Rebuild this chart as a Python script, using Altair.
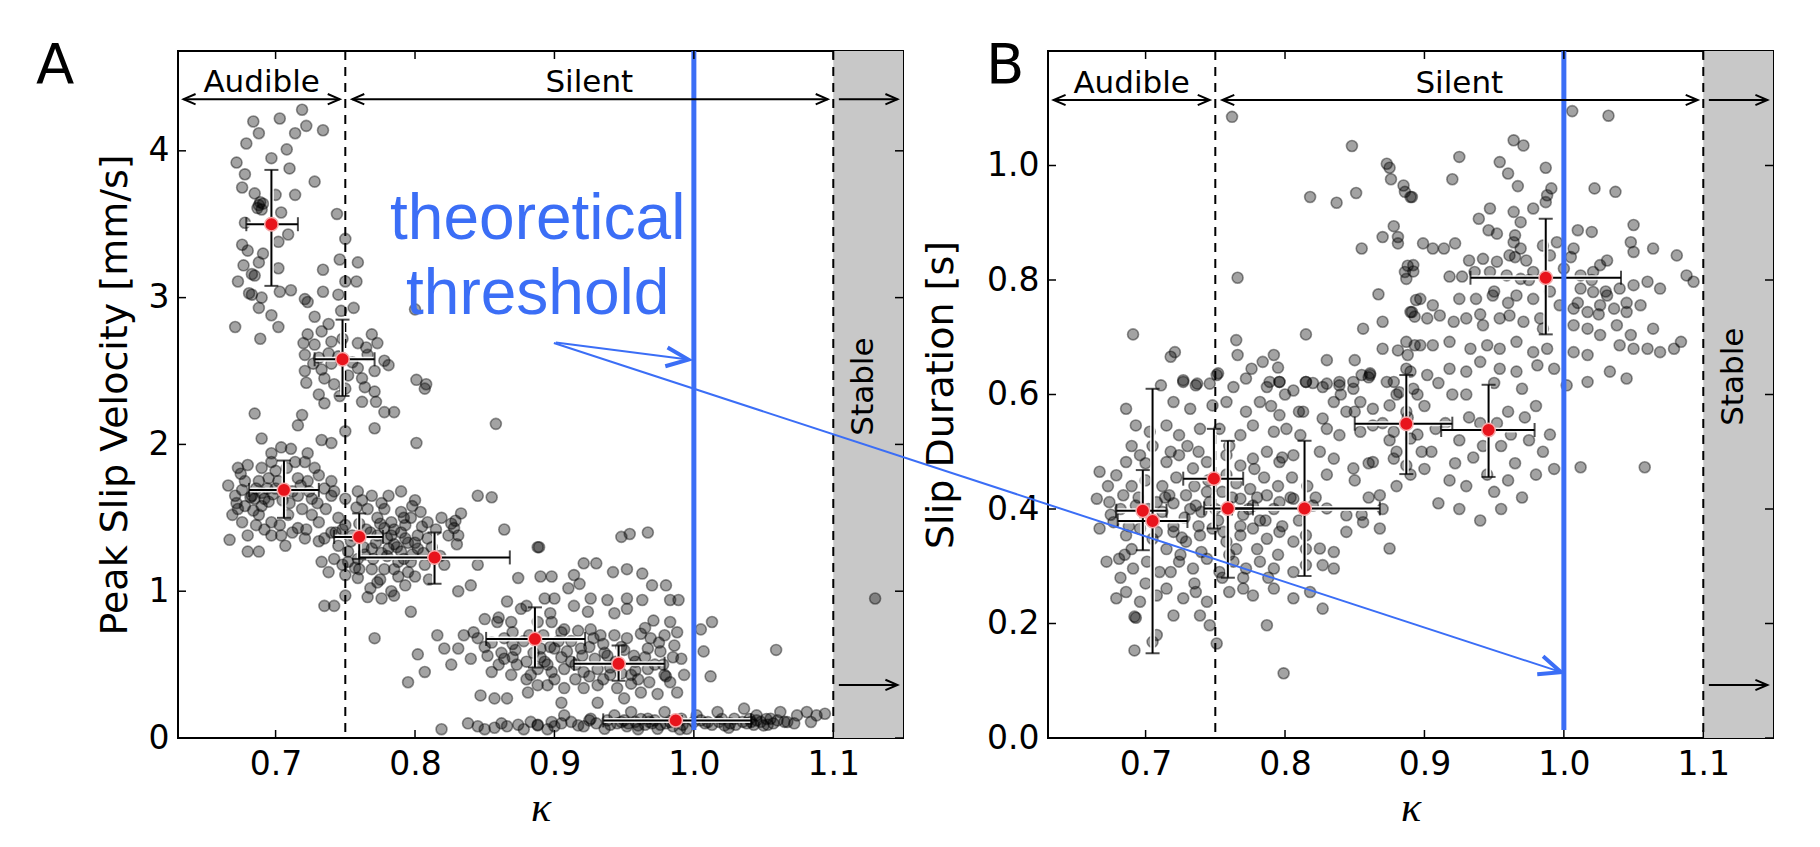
import altair as alt
import pandas as pd

# ---------------------------------------------------------------- styling
FONT = "DejaVu Sans"
BLUE = "#3b6ef6"
GRAY = "#c8c8c8"
RED = "#e8141c"
W, H = 725, 687

# ---------------------------------------------------------------- axes
K_DOMAIN = [0.63, 1.15]
K_TICKS = [0.7, 0.8, 0.9, 1.0, 1.1]
A_Y_DOMAIN = [0, 4.68]
A_Y_TICKS = [0, 1, 2, 3, 4]
B_Y_DOMAIN = [0, 1.2]
B_Y_TICKS = [0.0, 0.2, 0.4, 0.6, 0.8, 1.0]

AUDIBLE_EDGE = 0.75
STABLE_EDGE = 1.1
THRESHOLD = 1.0

REGION_NAMES = ["Audible", "Silent"]
REGION_CENTRES = [0.69, 0.925]
ARROW_FROM = [0.634, 0.755, 1.104]
ARROW_TO = [0.746, 1.096, 1.146]
ARROW_TWO_HEADED = [True, True, False]

# ---------------------------------------------------------------- panel A scatter (kappa, peak slip velocity)
A_HIGH_AUDIBLE = [(0.719,4.28),(0.703,4.22),(0.684,4.20),(0.722,4.17),(0.734,4.14),(0.688,4.12),(0.714,4.12),(0.679,4.05),(0.708,4.01),(0.697,3.95),(0.672,3.92),(0.678,3.84),(0.710,3.88),(0.728,3.79),(0.676,3.75),(0.685,3.71),(0.700,3.70),(0.714,3.70),(0.688,3.63),(0.689,3.65),(0.687,3.61),(0.691,3.64),(0.690,3.60),(0.704,3.58),(0.678,3.51),(0.709,3.43),(0.676,3.36),(0.680,3.32),(0.691,3.30),(0.702,3.38),(0.677,3.22),(0.688,3.24),(0.683,3.16),(0.685,3.15),(0.673,3.11),(0.702,3.20),(0.683,3.02),(0.681,3.03),(0.690,3.00),(0.703,3.04),(0.711,3.05),(0.688,2.93),(0.697,2.88),(0.671,2.80),(0.702,2.80),(0.689,2.72),(0.744,3.57),(0.721,2.99)]
A_MID_AUDIBLE = [(0.750,3.40),(0.746,3.26),(0.759,3.24),(0.734,3.19),(0.750,3.11),(0.758,3.11),(0.734,3.04),(0.745,3.02),(0.723,2.97),(0.756,2.93),(0.728,2.87),(0.747,2.91),(0.738,2.82),(0.723,2.75),(0.733,2.77),(0.769,2.75),(0.720,2.69),(0.728,2.68),(0.740,2.70),(0.759,2.69),(0.773,2.69),(0.721,2.61),(0.731,2.59),(0.738,2.62),(0.766,2.61),(0.778,2.57),(0.721,2.50),(0.733,2.51),(0.759,2.52),(0.771,2.50),(0.781,2.54),(0.801,2.44),(0.808,2.41),(0.800,2.92),(0.722,2.42),(0.731,2.34),(0.742,2.41),(0.750,2.38),(0.764,2.39),(0.771,2.36),(0.762,2.29),(0.772,2.29),(0.778,2.22),(0.785,2.22),(0.750,2.09),(0.771,2.11),(0.735,2.28),(0.746,2.33),(0.807,2.38),(0.858,2.14),(0.801,2.01),(0.740,2.55),(0.745,2.60),(0.752,2.47),(0.762,2.45),(0.755,2.56),(0.765,2.66),(0.748,2.72),(0.735,2.45),(0.727,2.55)]
A_LOW_AUDIBLE = [(0.685,2.21),(0.719,2.20),(0.716,2.13),(0.690,2.04),(0.704,1.98),(0.711,1.97),(0.697,1.94),(0.723,1.94),(0.733,2.03),(0.740,2.01),(0.673,1.84),(0.680,1.86),(0.690,1.84),(0.697,1.88),(0.714,1.88),(0.721,1.88),(0.728,1.84),(0.666,1.72),(0.678,1.75),(0.683,1.65),(0.688,1.75),(0.695,1.77),(0.716,1.77),(0.723,1.75),(0.731,1.79),(0.740,1.75),(0.671,1.65),(0.673,1.56),(0.685,1.63),(0.695,1.61),(0.716,1.65),(0.726,1.63),(0.735,1.70),(0.742,1.68),(0.669,1.52),(0.676,1.47),(0.688,1.52),(0.697,1.47),(0.709,1.52),(0.719,1.56),(0.726,1.52),(0.716,1.43),(0.731,1.47),(0.680,1.38),(0.697,1.38),(0.707,1.31),(0.667,1.35),(0.680,1.27),(0.688,1.27),(0.721,1.36),(0.731,1.34),(0.740,1.40),(0.750,1.45),(0.704,1.38),(0.682,1.64),(0.690,1.67),(0.692,1.63),(0.702,1.75),(0.686,1.70),(0.700,1.70),(0.710,1.60),(0.676,1.69),(0.672,1.60),(0.678,1.58),(0.684,1.55),(0.690,1.58),(0.694,1.70),(0.698,1.66),(0.705,1.62),(0.712,1.68),(0.718,1.72),(0.724,1.68),(0.730,1.60),(0.736,1.56),(0.686,1.45),(0.692,1.42),(0.703,1.45),(0.712,1.40),(0.722,1.42),(0.700,1.82),(0.708,1.84),(0.675,1.80)]
A_TRANSITION = [(0.740,1.65),(0.750,1.63),(0.759,1.68),(0.769,1.65),(0.781,1.65),(0.790,1.68),(0.800,1.62),(0.766,1.56),(0.778,1.56),(0.790,1.54),(0.804,1.54),(0.797,1.50),(0.745,1.50),(0.773,1.50),(0.783,1.47),(0.793,1.45),(0.809,1.47),(0.819,1.50),(0.828,1.43),(0.831,1.38),(0.824,1.38),(0.735,1.36),(0.745,1.31),(0.754,1.34),(0.773,1.38),(0.783,1.38),(0.793,1.36),(0.802,1.38),(0.809,1.36),(0.769,1.29),(0.781,1.29),(0.790,1.27),(0.802,1.29),(0.788,1.20),(0.797,1.20),(0.733,1.20),(0.742,1.22),(0.752,1.20),(0.759,1.22),(0.769,1.15),(0.778,1.15),(0.807,1.18),(0.821,1.18),(0.738,1.13),(0.750,1.11),(0.759,1.09),(0.773,1.06),(0.783,1.00),(0.793,1.04),(0.766,0.96),(0.776,0.95),(0.785,0.97),(0.831,1.00),(0.840,1.04),(0.845,1.18),(0.864,1.42),(0.888,1.30),(0.735,0.90),(0.742,0.90),(0.750,0.97),(0.797,0.86),(0.771,0.68),(0.845,1.65),(0.855,1.64),(0.833,1.53),(0.785,1.42),(0.790,1.40),(0.795,1.33),(0.785,1.32),(0.778,1.43),(0.765,1.42),(0.798,1.25),(0.780,1.24),(0.772,1.33),(0.760,1.46),(0.805,1.44),(0.815,1.42),(0.826,1.46),(0.829,1.48),(0.770,1.22),(0.788,1.10),(0.760,1.15),(0.795,1.13),(0.810,1.08),(0.752,1.27),(0.743,1.40),(0.758,1.57),(0.748,1.42),(0.755,1.38),(0.763,1.30),(0.768,1.40),(0.775,1.46),(0.780,1.36),(0.787,1.30),(0.792,1.22),(0.800,1.33),(0.806,1.26),(0.812,1.30),(0.818,1.24),(0.776,1.26),(0.764,1.25),(0.757,1.16),(0.748,1.18),(0.785,1.15),(0.800,1.10),(0.775,1.08),(0.768,1.02),(0.792,1.50),(0.798,1.58),(0.776,1.60),(0.762,1.62),(0.830,1.32)]
A_SILENT = [(0.874,1.09),(0.866,0.93),(0.876,0.88),(0.850,0.81),(0.859,0.79),(0.869,0.79),(0.835,0.70),(0.845,0.68),(0.855,0.65),(0.864,0.68),(0.816,0.70),(0.821,0.61),(0.802,0.57),(0.831,0.61),(0.826,0.50),(0.840,0.54),(0.852,0.56),(0.864,0.54),(0.855,0.45),(0.869,0.43),(0.883,0.43),(0.847,0.29),(0.857,0.27),(0.866,0.27),(0.881,0.31),(0.888,0.36),(0.807,0.45),(0.795,0.38),(0.889,1.30),(0.948,1.37),(0.954,1.39),(0.967,1.40),(0.921,1.19),(0.930,1.19),(0.890,1.10),(0.898,1.10),(0.914,1.11),(0.942,1.13),(0.952,1.15),(0.963,1.12),(0.970,1.04),(0.980,1.04),(0.910,1.02),(0.918,1.05),(0.893,0.95),(0.900,0.95),(0.926,0.95),(0.938,0.94),(0.952,0.95),(0.963,0.94),(0.983,0.94),(0.989,0.94),(0.914,0.90),(0.924,0.86),(0.943,0.85),(0.952,0.88),(0.971,0.80),(0.983,0.79),(1.005,0.74),(1.013,0.79),(0.888,0.79),(0.898,0.79),(0.907,0.74),(0.917,0.73),(0.926,0.74),(0.933,0.70),(0.943,0.70),(0.952,0.68),(0.962,0.71),(0.969,0.68),(0.979,0.70),(0.988,0.72),(0.890,0.61),(0.900,0.61),(0.909,0.59),(0.919,0.61),(0.929,0.54),(0.938,0.56),(0.957,0.56),(0.967,0.61),(0.976,0.59),(0.986,0.63),(0.991,0.54),(1.007,0.59),(0.888,0.47),(0.898,0.45),(0.907,0.47),(0.921,0.45),(0.931,0.47),(0.940,0.43),(0.955,0.43),(0.967,0.47),(0.979,0.43),(0.983,0.38),(0.993,0.43),(1.012,0.42),(0.895,0.36),(0.907,0.34),(0.921,0.34),(0.931,0.36),(0.945,0.34),(0.962,0.31),(0.974,0.30),(0.988,0.31),(0.905,0.24),(0.931,0.24),(0.950,0.27),(1.059,0.60),(0.870,0.72),(0.878,0.66),(0.885,0.58),(0.872,0.60),(0.862,0.58),(0.880,0.52),(0.873,0.50),(0.893,0.52),(0.905,0.55),(0.915,0.50),(0.925,0.62),(0.935,0.64),(0.948,0.62),(0.958,0.52),(0.935,0.40),(0.955,0.37),(0.968,0.38),(0.978,0.50),(0.915,0.40),(0.945,0.50),(0.860,0.82),(0.892,0.70),(0.903,0.66),(0.880,0.90),(0.897,0.85),(1.130,0.95),(0.870,0.64),(0.882,0.70),(0.890,0.55),(0.897,0.62),(0.905,0.72),(0.912,0.66),(0.920,0.56),(0.928,0.68),(0.936,0.58),(0.944,0.52),(0.950,0.60),(0.958,0.46),(0.965,0.55),(0.972,0.50),(0.980,0.42),(0.960,0.40),(0.948,0.44),(0.940,0.48),(0.925,0.42),(0.912,0.52),(0.900,0.40),(0.895,0.50),(0.880,0.40),(0.870,0.55),(0.860,0.50),(0.850,0.62),(0.842,0.72),(0.985,0.55),(0.975,0.65),(0.965,0.75)]
A_BAND = [(0.819,0.06),(0.838,0.10),(0.850,0.06),(0.857,0.07),(0.874,0.09),(0.878,0.06),(0.888,0.09),(0.895,0.06),(0.888,0.086),(0.898,0.109),(0.907,0.154),(0.917,0.086),(0.926,0.131),(0.936,0.063),(0.943,0.154),(0.948,0.109),(0.955,0.177),(0.960,0.086),(0.967,0.131),(0.974,0.063),(0.979,0.177),(0.983,0.109),(0.991,0.131),(0.995,0.063),(1.002,0.154),(1.010,0.109),(1.017,0.177),(1.022,0.086),(1.029,0.131),(1.036,0.200),(1.041,0.109),(1.045,0.154),(1.050,0.086),(1.055,0.131),(1.062,0.177),(1.067,0.109),(1.074,0.154),(1.081,0.177),(1.088,0.154),(1.094,0.165),(1.084,0.109),(0.945,0.10),(0.950,0.12),(0.952,0.08),(0.958,0.11),(0.962,0.13),(0.965,0.09),(0.970,0.10),(0.972,0.12),(0.976,0.09),(0.985,0.08),(1.035,0.11),(1.040,0.13),(1.043,0.09),(1.048,0.11),(1.052,0.13),(1.057,0.10),(1.060,0.12),(0.930,0.10),(0.938,0.12),(1.005,0.12),(1.013,0.09),(1.020,0.13),(1.026,0.10),(0.912,0.11),(0.921,0.08),(0.900,0.08),(0.866,0.08),(0.845,0.08),(0.862,0.10),(0.883,0.11),(0.940,0.09),(0.953,0.10),(0.968,0.11),(0.980,0.10),(0.992,0.09),(1.000,0.11),(1.008,0.10),(1.018,0.11),(1.030,0.09),(1.038,0.10),(1.045,0.12),(1.053,0.09),(1.065,0.11),(1.072,0.10),(0.925,0.12),(0.905,0.10),(0.960,0.06),(0.990,0.06),(1.025,0.07)]

# ---------------------------------------------------------------- panel B scatter (kappa, slip duration)
B_UPPER = [(0.762,1.085),(0.848,1.034),(0.873,1.003),(0.875,0.996),(0.876,0.976),(0.886,0.954),(0.890,0.945),(0.818,0.945),(0.837,0.935),(0.851,0.952),(0.878,0.894),(0.881,0.875),(0.881,0.864),(0.870,0.875),(0.855,0.855),(0.888,0.825),(0.892,0.815),(0.887,0.802),(0.766,0.804),(0.867,0.775),(0.894,0.765),(0.891,0.744),(0.893,0.736),(0.870,0.727),(0.856,0.715),(0.691,0.705),(0.815,0.705),(0.765,0.695),(0.766,0.669),(0.721,0.674),(0.718,0.666),(0.792,0.669),(0.784,0.657),(0.776,0.645),(0.795,0.647),(0.881,0.677),(0.888,0.669),(0.893,0.686),(0.861,0.637),(0.855,0.634),(0.727,0.625),(0.737,0.619),(0.746,0.619),(0.752,0.637),(0.711,0.616),(0.789,0.622),(0.796,0.622),(0.815,0.622),(0.830,0.619),(0.839,0.622),(0.849,0.622),(0.878,0.622)]
B_SILENT_HIGH = [(1.006,1.095),(1.032,1.087),(0.964,1.044),(0.971,1.035),(0.925,1.015),(0.954,1.006),(0.960,0.986),(0.987,0.996),(0.920,0.976),(0.967,0.964),(0.991,0.960),(0.988,0.948),(0.987,0.936),(1.022,0.960),(1.037,0.954),(0.885,0.965),(0.891,0.945),(0.947,0.925),(0.939,0.907),(0.964,0.919),(0.969,0.901),(0.965,0.878),(0.978,0.925),(1.050,0.896),(1.010,0.887),(1.020,0.884),(0.946,0.887),(0.952,0.881),(0.964,0.866),(0.969,0.855),(0.995,0.866),(1.007,0.855),(0.990,0.843),(1.031,0.834),(1.026,0.826),(1.021,0.814),(1.048,0.866),(1.050,0.849),(1.064,0.855),(1.081,0.843),(0.899,0.864),(0.906,0.855),(0.914,0.855),(0.922,0.864),(0.932,0.834),(0.942,0.837),(0.952,0.832),(0.961,0.843),(0.973,0.834),(0.978,0.814),(0.886,0.814),(0.892,0.826),(0.918,0.806),(0.927,0.806),(0.936,0.814),(0.947,0.814),(0.959,0.808),(0.969,0.802),(1.012,0.808),(1.012,0.785),(1.021,0.779),(1.031,0.773),(1.040,0.785),(1.050,0.791),(1.060,0.797),(1.069,0.785),(1.088,0.808),(1.093,0.797),(0.897,0.767),(0.906,0.756),(0.925,0.767),(0.937,0.767),(0.949,0.773),(0.966,0.773),(0.978,0.767),(0.997,0.756),(1.007,0.750),(1.017,0.744),(1.026,0.756),(1.036,0.750),(1.045,0.744),(1.055,0.756),(0.890,0.744),(0.902,0.733),(0.911,0.738),(0.921,0.727),(0.930,0.733),(0.942,0.721),(0.954,0.733),(0.961,0.738),(0.971,0.727),(0.983,0.733),(0.985,0.715),(1.007,0.721),(1.017,0.715),(1.026,0.704),(1.038,0.721),(1.048,0.704),(1.064,0.715),(0.887,0.692),(0.897,0.686),(0.906,0.686),(0.918,0.692),(0.933,0.680),(0.945,0.686),(0.954,0.680),(0.966,0.692),(0.978,0.674),(0.988,0.680),(1.040,0.686),(1.050,0.680),(1.060,0.680),(1.069,0.674),(1.079,0.680),(1.084,0.692),(1.007,0.674),(1.017,0.669),(0.887,0.645),(0.902,0.634),(0.918,0.645),(0.930,0.640),(0.940,0.657),(0.954,0.645),(0.966,0.640),(0.981,0.651),(0.993,0.645),(1.033,0.640),(1.045,0.628),(1.017,0.622),(1.002,0.616),(0.950,0.78),(0.960,0.76),(0.975,0.80),(0.990,0.78),(1.000,0.82),(1.010,0.76),(1.020,0.80),(1.030,0.78),(1.045,0.76),(0.965,0.84),(0.985,0.86),(1.005,0.84),(1.025,0.74),(0.940,0.74)]
B_SILENT_MID = [(0.870,0.55),(0.895,0.53),(0.905,0.50),(0.915,0.55),(0.925,0.52),(0.935,0.49),(0.945,0.46),(0.955,0.51),(0.965,0.48),(0.975,0.52),(0.985,0.50),(0.993,0.47),(0.900,0.47),(0.918,0.45),(0.930,0.44),(0.950,0.43),(0.960,0.45),(0.980,0.46),(0.940,0.55),(0.960,0.57),(0.980,0.58),(0.900,0.58),(0.920,0.60),(0.880,0.50),(0.890,0.46),(0.910,0.41),(0.925,0.40),(0.970,0.42),(0.955,0.40),(0.940,0.38),(1.012,0.473),(1.058,0.473),(0.850,0.45),(0.860,0.42),(0.870,0.40),(0.855,0.39),(0.880,0.44),(0.800,0.60),(0.820,0.62),(0.840,0.60),(0.860,0.63),(0.880,0.60),(0.830,0.66),(0.850,0.66),(0.870,0.68),(0.890,0.64),(0.790,0.58),(0.810,0.57),(0.850,0.57),(0.860,0.48),(0.875,0.52),(0.888,0.56),(0.898,0.50),(0.908,0.54),(0.922,0.48),(0.932,0.56),(0.942,0.51),(0.952,0.55),(0.962,0.53),(0.972,0.56),(0.990,0.53),(0.895,0.60),(0.910,0.62),(0.930,0.60),(0.950,0.62),(0.970,0.61)]
B_AUDIBLE_CORE = [(0.727,0.622),(0.736,0.616),(0.751,0.634),(0.763,0.613),(0.772,0.628),(0.787,0.613),(0.796,0.622),(0.806,0.607),(0.815,0.622),(0.827,0.613),(0.839,0.616),(0.849,0.610),(0.861,0.634),(0.873,0.622),(0.882,0.604),(0.892,0.610),(0.686,0.575),(0.720,0.587),(0.732,0.575),(0.748,0.581),(0.758,0.587),(0.772,0.570),(0.782,0.587),(0.796,0.564),(0.813,0.570),(0.827,0.558),(0.835,0.587),(0.844,0.570),(0.854,0.587),(0.863,0.575),(0.875,0.581),(0.887,0.570),(0.693,0.546),(0.703,0.535),(0.715,0.546),(0.724,0.529),(0.739,0.540),(0.753,0.540),(0.768,0.529),(0.777,0.546),(0.792,0.535),(0.801,0.540),(0.811,0.529),(0.830,0.540),(0.839,0.529),(0.854,0.535),(0.863,0.546),(0.878,0.535),(0.890,0.523),(0.667,0.465),(0.679,0.459),(0.686,0.482),(0.696,0.494),(0.715,0.482),(0.724,0.494),(0.734,0.471),(0.744,0.482),(0.758,0.494),(0.768,0.476),(0.777,0.488),(0.787,0.500),(0.796,0.482),(0.806,0.494),(0.825,0.500),(0.835,0.488),(0.849,0.471),(0.863,0.482),(0.878,0.488),(0.887,0.476),(0.665,0.418),(0.674,0.412),(0.684,0.424),(0.693,0.406),(0.708,0.412),(0.717,0.424),(0.729,0.424),(0.736,0.406),(0.746,0.412),(0.768,0.418),(0.777,0.406),(0.787,0.424),(0.796,0.412),(0.806,0.418),(0.820,0.406),(0.830,0.401),(0.844,0.389),(0.856,0.377),(0.868,0.424),(0.875,0.331),(0.667,0.366),(0.677,0.377),(0.686,0.354),(0.696,0.366),(0.705,0.348),(0.720,0.360),(0.729,0.343),(0.739,0.354),(0.748,0.366),(0.758,0.343),(0.768,0.354),(0.777,0.366),(0.787,0.348),(0.796,0.360),(0.806,0.343),(0.815,0.354),(0.825,0.331),(0.835,0.325),(0.844,0.360),(0.868,0.366),(0.690,0.440),(0.700,0.450),(0.712,0.440),(0.722,0.455),(0.735,0.440),(0.745,0.450),(0.755,0.430),(0.765,0.445),(0.775,0.435),(0.785,0.455),(0.700,0.385),(0.712,0.395),(0.728,0.385),(0.740,0.395),(0.752,0.380),(0.770,0.390),(0.782,0.380),(0.795,0.440),(0.805,0.455),(0.690,0.330),(0.715,0.330),(0.740,0.325),(0.760,0.320),(0.780,0.330),(0.673,0.440),(0.705,0.510),(0.760,0.510),(0.730,0.510),(0.720,0.370),(0.675,0.39),(0.682,0.40),(0.688,0.37),(0.695,0.42),(0.702,0.40),(0.708,0.36),(0.714,0.42),(0.720,0.41),(0.726,0.35),(0.732,0.40),(0.738,0.37),(0.744,0.43),(0.750,0.40),(0.756,0.36),(0.762,0.42),(0.768,0.37),(0.774,0.40),(0.780,0.42),(0.786,0.38),(0.792,0.40),(0.798,0.37),(0.804,0.42),(0.810,0.38),(0.816,0.44),(0.822,0.42),(0.830,0.46),(0.682,0.28),(0.700,0.27),(0.718,0.29),(0.735,0.27),(0.755,0.28),(0.770,0.28),(0.788,0.28),(0.700,0.48),(0.718,0.50),(0.738,0.50),(0.758,0.46),(0.778,0.47),(0.798,0.49),(0.690,0.51),(0.685,0.32),(0.725,0.32),(0.765,0.33),(0.795,0.32),(0.815,0.33)]
B_AUDIBLE_LOW = [(0.672,0.308),(0.681,0.313),(0.691,0.296),(0.701,0.308),(0.710,0.290),(0.724,0.308),(0.734,0.296),(0.744,0.313),(0.753,0.290),(0.763,0.308),(0.772,0.296),(0.782,0.308),(0.792,0.296),(0.806,0.290),(0.815,0.302),(0.827,0.302),(0.835,0.296),(0.679,0.244),(0.686,0.255),(0.696,0.238),(0.708,0.249),(0.715,0.261),(0.727,0.244),(0.736,0.255),(0.744,0.238),(0.760,0.255),(0.770,0.261),(0.777,0.249),(0.792,0.261),(0.806,0.244),(0.818,0.255),(0.827,0.226),(0.692,0.212),(0.693,0.210),(0.720,0.214),(0.739,0.214),(0.746,0.197),(0.787,0.197),(0.708,0.180),(0.692,0.153),(0.751,0.165),(0.799,0.113),(0.705,0.168)]

# ---------------------------------------------------------------- bin means +- std (red markers)
A_MEAN_K = [0.697, 0.748, 0.706, 0.760, 0.814, 0.886, 0.946, 0.987]
A_MEAN_V = [3.50, 2.58, 1.69, 1.37, 1.23, 0.675, 0.506, 0.12]
A_K_LO = [0.679, 0.728, 0.681, 0.742, 0.760, 0.851, 0.914, 0.935]
A_K_HI = [0.716, 0.771, 0.731, 0.777, 0.868, 0.922, 0.979, 1.041]
A_V_LO = [3.08, 2.33, 1.50, 1.22, 1.05, 0.48, 0.39, 0.09]
A_V_HI = [3.87, 2.85, 1.89, 1.53, 1.40, 0.89, 0.63, 0.15]

B_MEAN_K = [0.698, 0.705, 0.749, 0.759, 0.814, 0.887, 0.946, 0.987]
B_MEAN_V = [0.397, 0.379, 0.453, 0.401, 0.401, 0.549, 0.538, 0.804]
B_K_LO = [0.679, 0.680, 0.727, 0.742, 0.762, 0.850, 0.912, 0.933]
B_K_HI = [0.715, 0.730, 0.770, 0.777, 0.868, 0.920, 0.979, 1.041]
B_V_LO = [0.328, 0.148, 0.366, 0.280, 0.283, 0.461, 0.456, 0.705]
B_V_HI = [0.468, 0.610, 0.540, 0.519, 0.519, 0.634, 0.617, 0.907]

# annotation heights in each panel's own units
A_ANN = {"arrow": 4.352, "label": 4.46, "bottom_arrow": 0.3615, "stable": 2.394, "blue_end": 0.055}
B_ANN = {"arrow": 1.1144, "label": 1.142, "bottom_arrow": 0.0926, "stable": 0.631, "blue_end": 0.014}

# blue "theoretical threshold" annotation
NOTE_LINES = ["theoretical", "threshold"]
NOTE_K = 0.888
NOTE_V = [3.40, 2.89]                 # panel A units
NOTE_ARROW_A = [0.901, 2.694, 0.996, 2.578]      # tail k, tail v, head k, head v (panel A)
NOTE_ARROW_B = [0.2756, 0.690, 0.998, 0.115]     # same tail, expressed in panel B units

HEAD = "M-1,-0.43L0,0L-1,0.43"


def build_panel(points, mk, mv, klo, khi, vlo, vhi, ydom, yticks, yfmt, ytitle,
                title_pad, ann, letter, letter_dx, extra):
    xs = alt.Scale(domain=K_DOMAIN, nice=False, zero=False)
    ys = alt.Scale(domain=ydom, nice=False, zero=False)
    xaxis = alt.Axis(values=K_TICKS, format=".1f", title="κ", labelPadding=10,
                     titleFont="Liberation Serif", titleFontStyle="italic", titleFontSize=42,
                     titleFontWeight="normal", titleBaseline="alphabetic", titleY=82)
    yaxis = alt.Axis(values=yticks, format=yfmt, title=ytitle, labelPadding=9,
                     titlePadding=title_pad)

    def X(f):
        return alt.X(f, type="quantitative", scale=xs, axis=xaxis)

    def Y(f):
        return alt.Y(f, type="quantitative", scale=ys, axis=yaxis)

    layers = []
    stable = pd.DataFrame({"k1": [STABLE_EDGE], "k2": [K_DOMAIN[1]], "v1": [ydom[0]], "v2": [ydom[1]]})
    layers.append(alt.Chart(stable).mark_rect(color=GRAY).encode(
        x=X("k1"), x2="k2", y=Y("v1"), y2="v2"))
    edges = pd.DataFrame({"k": [AUDIBLE_EDGE, STABLE_EDGE]})
    layers.append(alt.Chart(edges).mark_rule(color="black", strokeWidth=2, strokeDash=[9, 7]).encode(x=X("k")))

    pts = pd.DataFrame(points, columns=["k", "v"])
    layers.append(alt.Chart(pts).mark_point(shape="circle", filled=True, size=120, fill="black",
                                            fillOpacity=0.36, stroke="black", strokeOpacity=0.42,
                                            strokeWidth=1.6).encode(x=X("k"), y=Y("v")))

    m = pd.DataFrame({"k": mk, "v": mv, "klo": klo, "khi": khi, "vlo": vlo, "vhi": vhi})
    for col, w in (("white", 5), ("black", 2)):
        layers.append(alt.Chart(m).mark_rule(color=col, strokeWidth=w, opacity=0.9 if col == "white" else 1).encode(
            x=X("klo"), x2="khi", y=Y("v")))
        layers.append(alt.Chart(m).mark_rule(color=col, strokeWidth=w, opacity=0.9 if col == "white" else 1).encode(
            x=X("k"), y=Y("vlo"), y2="vhi"))
    for f in ("vlo", "vhi"):
        layers.append(alt.Chart(m).mark_tick(orient="horizontal", color="black", size=14, thickness=2).encode(
            x=X("k"), y=Y(f)))
    for f in ("klo", "khi"):
        layers.append(alt.Chart(m).mark_tick(orient="vertical", color="black", size=14, thickness=2).encode(
            x=X(f), y=Y("v")))
    layers.append(alt.Chart(m).mark_point(shape="circle", filled=True, size=180, fill=RED, opacity=1,
                                          stroke="#f4a8a8", strokeWidth=1.5).encode(x=X("k"), y=Y("v")))

    blue = pd.DataFrame({"k": [THRESHOLD], "v1": [ydom[1]], "v2": [ann["blue_end"]]})
    layers.append(alt.Chart(blue).mark_rule(color=BLUE, strokeWidth=5).encode(x=X("k"), y=Y("v1"), y2="v2"))

    # region arrows
    arrows = pd.DataFrame({"k1": ARROW_FROM, "k2": ARROW_TO, "v": [ann["arrow"]] * 3})
    layers.append(alt.Chart(arrows).mark_rule(color="black", strokeWidth=2).encode(
        x=X("k1"), x2="k2", y=Y("v")))
    hk, ha = [], []
    for a, b, two in zip(ARROW_FROM, ARROW_TO, ARROW_TWO_HEADED):
        hk.append(b); ha.append(0)
        if two:
            hk.append(a); ha.append(180)
    heads = pd.DataFrame({"k": hk, "v": [ann["arrow"]] * len(hk), "ang": ha})
    bottom = pd.DataFrame({"k1": [ARROW_FROM[2]], "k2": [ARROW_TO[2]], "v": [ann["bottom_arrow"]], "ang": [0]})
    layers.append(alt.Chart(bottom).mark_rule(color="black", strokeWidth=2).encode(
        x=X("k1"), x2="k2", y=Y("v")))
    heads = pd.concat([heads, pd.DataFrame({"k": [ARROW_TO[2]], "v": [ann["bottom_arrow"]], "ang": [0]})])
    layers.append(alt.Chart(heads).mark_point(shape=HEAD, filled=False, size=576, color="black",
                                              strokeWidth=2, opacity=1).encode(
        x=X("k"), y=Y("v"), angle=alt.Angle("ang:Q", scale=None)))

    labels = pd.DataFrame({"k": REGION_CENTRES, "v": [ann["label"]] * 2, "t": REGION_NAMES})
    layers.append(alt.Chart(labels).mark_text(font=FONT, fontSize=31, color="black", baseline="middle").encode(
        x=X("k"), y=Y("v"), text="t:N"))
    stab = pd.DataFrame({"k": [(STABLE_EDGE + K_DOMAIN[1]) / 2 - 0.003], "v": [ann["stable"]], "t": ["Stable"]})
    layers.append(alt.Chart(stab).mark_text(font=FONT, fontSize=31, color="black", angle=270,
                                            baseline="middle", align="center").encode(
        x=X("k"), y=Y("v"), text="t:N"))

    # inward ticks on all four sides
    xt = pd.DataFrame({"k": K_TICKS})
    layers.append(alt.Chart(xt).mark_rule(color="black", strokeWidth=1.5).encode(
        x=X("k"), y=alt.value(H), y2=alt.value(H - 8)))
    layers.append(alt.Chart(xt).mark_rule(color="black", strokeWidth=1.5).encode(
        x=X("k"), y=alt.value(0), y2=alt.value(8)))
    yt = pd.DataFrame({"v": yticks})
    layers.append(alt.Chart(yt).mark_rule(color="black", strokeWidth=1.5).encode(
        y=Y("v"), x=alt.value(0), x2=alt.value(8)))
    layers.append(alt.Chart(yt).mark_rule(color="black", strokeWidth=1.5).encode(
        y=Y("v"), x=alt.value(W), x2=alt.value(W - 8)))

    lt = pd.DataFrame({"t": [letter]})
    layers.append(alt.Chart(lt).mark_text(font=FONT, fontSize=56, color="black", align="left",
                                          baseline="top").encode(
        x=alt.value(letter_dx), y=alt.value(-12), text="t:N"))

    for make in extra:
        layers.append(make(X, Y))

    return alt.layer(*layers).properties(width=W, height=H)


def note_text(X, Y):
    df = pd.DataFrame({"k": [NOTE_K] * 2, "v": NOTE_V, "t": NOTE_LINES})
    return alt.Chart(df).mark_text(font="Liberation Sans", fontSize=64, color=BLUE, align="center",
                                   baseline="alphabetic").encode(x=X("k"), y=Y("v"), text="t:N")


def make_arrow(spec, angle):
    def build(X, Y):
        df = pd.DataFrame({"k1": [spec[0]], "v1": [spec[1]], "k2": [spec[2]], "v2": [spec[3]], "ang": [angle]})
        shaft = alt.Chart(df).mark_rule(color=BLUE, strokeWidth=2).encode(
            x=X("k1"), y=Y("v1"), x2="k2", y2="v2")
        head = alt.Chart(df).mark_point(shape=HEAD, filled=False, size=1936, color=BLUE,
                                        strokeWidth=4, opacity=1).encode(
            x=X("k2"), y=Y("v2"), angle=alt.Angle("ang:Q", scale=None))
        return alt.layer(shaft, head)
    return build


panel_a = build_panel(A_HIGH_AUDIBLE + A_MID_AUDIBLE + A_LOW_AUDIBLE + A_TRANSITION + A_SILENT + A_BAND,
                      A_MEAN_K, A_MEAN_V, A_K_LO, A_K_HI, A_V_LO, A_V_HI,
                      A_Y_DOMAIN, A_Y_TICKS, "d", "Peak Slip Velocity [mm/s]", 14, A_ANN, "A", -142,
                      [note_text, make_arrow(NOTE_ARROW_A, 7)])
panel_b = build_panel(B_UPPER + B_SILENT_HIGH + B_SILENT_MID + B_AUDIBLE_CORE + B_AUDIBLE_LOW,
                      B_MEAN_K, B_MEAN_V, B_K_LO, B_K_HI, B_V_LO, B_V_HI,
                      B_Y_DOMAIN, B_Y_TICKS, ".1f", "Slip Duration [s]", 26, B_ANN, "B", -62,
                      [make_arrow(NOTE_ARROW_B, 18)])

chart = alt.hconcat(panel_a, panel_b, spacing=145, bounds="flush").properties(
    padding={"left": 35, "top": 37, "right": 5, "bottom": 5},
    background="white",
).configure_view(stroke="black", strokeWidth=2).configure_axis(
    labelFont=FONT, labelFontSize=33, labelColor="black",
    titleFont=FONT, titleFontSize=38, titleFontWeight="normal", titleColor="black",
    grid=False, domain=False, ticks=False, tickSize=0,
)

chart.save("out.html", embed_options={"renderer": "svg", "actions": False})
